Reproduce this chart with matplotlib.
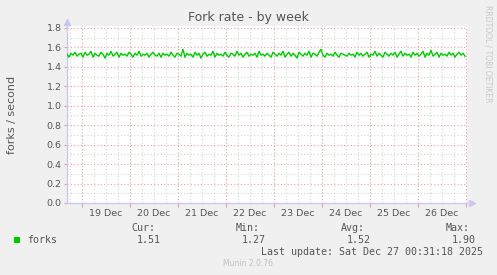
import numpy as np
import matplotlib
matplotlib.use("Agg")
import matplotlib.pyplot as plt
from matplotlib.ticker import FixedLocator, NullFormatter

# ---- data ----
title = "Fork rate - by week"
ylabel = "forks / second"
day_labels = ["19 Dec", "20 Dec", "21 Dec", "22 Dec", "23 Dec", "24 Dec", "25 Dec", "26 Dec"]
series_name = "forks"
stat_names = ["Cur:", "Min:", "Avg:", "Max:"]
stat_values = ["1.51", "1.27", "1.52", "1.90"]
last_update = "Last update: Sat Dec 27 00:31:18 2025"
# hourly values, starting Dec 18 ~17:30 (days relative to Dec 19 00:00)
start_day = -0.3125
step_day = 1 / 24
forks = [
    1.53, 1.50, 1.54, 1.52, 1.55, 1.51, 1.53, 1.54, 1.50, 1.55,
    1.52, 1.53, 1.56, 1.50, 1.54, 1.52, 1.51, 1.55, 1.53, 1.49,
    1.54, 1.52, 1.56, 1.51, 1.53, 1.55, 1.50, 1.54, 1.52, 1.53,
    1.51, 1.55, 1.53, 1.50, 1.54, 1.52, 1.56, 1.51, 1.53, 1.52,
    1.54, 1.50, 1.53, 1.55, 1.52, 1.51, 1.54, 1.50, 1.54, 1.52,
    1.53, 1.51, 1.55, 1.52, 1.50, 1.54, 1.53, 1.51, 1.58, 1.50,
    1.54, 1.52, 1.53, 1.50, 1.55, 1.52, 1.54, 1.49, 1.53, 1.55,
    1.51, 1.53, 1.52, 1.56, 1.50, 1.54, 1.52, 1.53, 1.51, 1.55,
    1.52, 1.50, 1.54, 1.53, 1.51, 1.56, 1.52, 1.54, 1.50, 1.53,
    1.55, 1.51, 1.53, 1.52, 1.54, 1.50, 1.56, 1.52, 1.53, 1.51,
    1.54, 1.52, 1.50, 1.55, 1.53, 1.51, 1.54, 1.52, 1.56, 1.50,
    1.53, 1.55, 1.51, 1.54, 1.52, 1.49, 1.55, 1.53, 1.51, 1.54,
    1.52, 1.56, 1.50, 1.54, 1.53, 1.51, 1.55, 1.58, 1.52, 1.50,
    1.54, 1.52, 1.53, 1.51, 1.55, 1.52, 1.50, 1.54, 1.53, 1.52,
    1.51, 1.54, 1.52, 1.53, 1.50, 1.55, 1.52, 1.54, 1.51, 1.53,
    1.55, 1.50, 1.53, 1.52, 1.56, 1.51, 1.54, 1.52, 1.50, 1.55,
    1.53, 1.51, 1.54, 1.52, 1.55, 1.50, 1.53, 1.56, 1.51, 1.54,
    1.52, 1.53, 1.50, 1.55, 1.52, 1.54, 1.51, 1.53, 1.56, 1.50,
    1.54, 1.52, 1.57, 1.51, 1.53, 1.55, 1.50, 1.54, 1.52, 1.53,
    1.51, 1.55, 1.52, 1.54, 1.50, 1.53, 1.55, 1.52, 1.54, 1.51,
]

t = start_day + step_day * np.arange(len(forks))
x0, x1 = start_day, start_day + step_day * len(forks)

BG = "#f0f0f0"
TXT = "#555555"
AXC = "#c8c8f0"
MAJ = "#e8a0a0"
MIN = "#d4d4d4"

fig = plt.figure(figsize=(4.97, 2.75), dpi=100, facecolor=BG)
W, H = 497, 275
ax = fig.add_axes([67 / W, (H - 203) / H, 400 / W, 177 / H])
ax.set_facecolor("white")
ax.set_xlim(x0, x1)
ax.set_ylim(0, 1.82)

# grid
for yv in np.arange(0.1, 1.81, 0.2):
    ax.axhline(yv, color=MIN, lw=0.8, ls=(0, (1, 2)), zorder=1)
for k in range(-1, 9):
    for h in (0.25, 0.5, 0.75):
        xv = k + h
        if x0 < xv < x1:
            ax.axvline(xv, color=MIN, lw=0.8, ls=(0, (1, 2)), zorder=1)
for yv in np.arange(0.2, 1.81, 0.2):
    ax.axhline(yv, color=MAJ, lw=0.8, ls=(0, (1, 2)), zorder=1.5)
for k in range(0, 9):
    ax.axvline(k, color=MAJ, lw=0.8, ls=(0, (1, 2)), zorder=1.5)

ax.plot(t, forks, color="#00cc00", lw=1.0, zorder=3)

# ticks
ax.set_yticks(np.round(np.arange(0, 1.81, 0.2), 1))
ax.set_yticklabels([f"{v:.1f}" for v in np.arange(0, 1.81, 0.2)])
ax.tick_params(axis="y", colors=MAJ, labelcolor=TXT, labelsize=6.8, length=2, width=0.8, pad=2)
ax.xaxis.set_major_locator(FixedLocator(list(range(0, 9))))
ax.xaxis.set_major_formatter(NullFormatter())
ax.xaxis.set_minor_locator(FixedLocator([k + 0.5 for k in range(len(day_labels))]))
ax.set_xticklabels(day_labels, minor=True)
ax.tick_params(axis="x", which="major", colors=MAJ, length=3, width=0.8)
ax.tick_params(axis="x", which="minor", length=0, labelcolor=TXT, labelsize=6.8, pad=4)

for s in ("top", "right"):
    ax.spines[s].set_visible(False)
for s in ("left", "bottom"):
    ax.spines[s].set_color(AXC)
    ax.spines[s].set_linewidth(1)

# axis arrows
ax.plot([x0], [1.82 + 0.04], marker="^", color=AXC, ms=4, clip_on=False, zorder=4)
ax.plot([x1 + 0.1], [0], marker=">", color=AXC, ms=4, clip_on=False, zorder=4)

fig.text(12 / W, 1 - 115 / H, ylabel, rotation=90, ha="center", va="center", color=TXT, fontsize=8)

fig.text(248 / W, 1 - 18 / H, title, ha="center", va="center", color=TXT, fontsize=9)
fig.text(488 / W, 1 - 5 / H, "RRDTOOL / TOBI OETIKER", rotation=270, ha="center", va="top",
         color="#c8c8c8", fontsize=5.5)

mono = "DejaVu Sans Mono"
fs = 7.2
# legend swatch
fig.patches.append(plt.Rectangle((14 / W, 1 - 243 / H), 6 / W, 6 / H, transform=fig.transFigure,
                                 facecolor="#00cc00", edgecolor="none"))
fig.text(27 / W, 1 - 240 / H, series_name, family=mono, fontsize=fs, color=TXT, va="center")
stat_right = [155, 260, 365, 470]
val_right = [161, 266, 371, 476]
for name, val, xr, xv in zip(stat_names, stat_values, stat_right, val_right):
    fig.text(xr / W, 1 - 228 / H, name, family=mono, fontsize=fs, color=TXT, ha="right", va="center")
    fig.text(xv / W, 1 - 240 / H, val, family=mono, fontsize=fs, color=TXT, ha="right", va="center")
fig.text(483 / W, 1 - 252 / H, last_update, family=mono, fontsize=fs, color=TXT, ha="right", va="center")
fig.text(248 / W, 1 - 264 / H, "Munin 2.0.76", fontsize=5.5, color="#c0c0c0", ha="center", va="center")

fig.savefig("out.png", dpi=100, facecolor=BG)
